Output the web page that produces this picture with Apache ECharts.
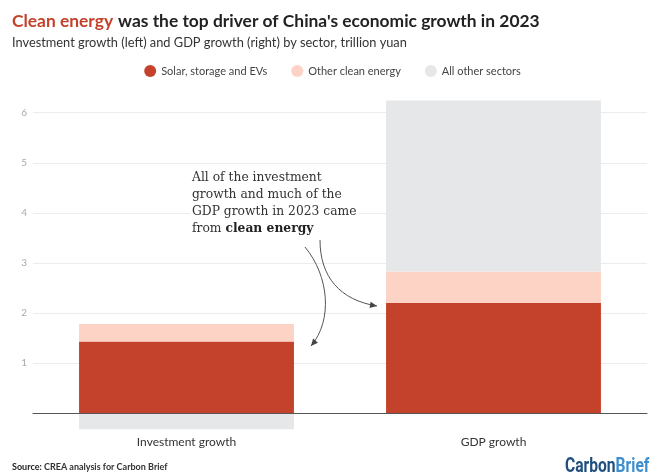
<!DOCTYPE html>
<html><head><meta charset="utf-8">
<script src="https://cdn.jsdelivr.net/npm/echarts@6/dist/echarts.min.js"></script>
<style>html,body{margin:0;padding:0;background:#fff}#c{width:665px;height:476px}</style>
</head><body><div id="c"></div>
<script>
const categories = ['Investment growth', 'GDP growth'];
const solarStorageEVs = [1.43, 2.20];
const otherCleanEnergy = [0.35, 0.63];
const allOtherSectors = [-0.32, 3.41];
const yTickLabels = ['', '1', '2', '3', '4', '5', '6'];

const SANS = 'Lato, "Noto Sans", sans-serif';
const chart = echarts.init(document.getElementById('c'), null, {renderer: 'canvas'});

function arrowHead(ex, ey, tx, ty) {
  const len = Math.hypot(tx, ty), ux = tx / len, uy = ty / len;
  const L = 7, W = 3.2;
  const bx = ex - ux * L, by = ey - uy * L;
  return [[ex, ey], [bx - uy * W, by + ux * W], [bx + uy * W, by - ux * W]];
}
const arrows = [
  {x1: 305, y1: 247, cpx1: 329, cpy1: 276, cpx2: 333, cpy2: 320, x2: 311, y2: 346},
  {x1: 320, y1: 240, cpx1: 320, cpy1: 277, cpx2: 340, cpy2: 300, x2: 377, y2: 306}
];
const arrowGraphics = [];
arrows.forEach(a => {
  arrowGraphics.push({type: 'bezierCurve', z: 100, shape: a, style: {stroke: '#555', lineWidth: 1, fill: null}});
  arrowGraphics.push({type: 'polygon', z: 100, shape: {points: arrowHead(a.x2, a.y2, a.x2 - a.cpx2, a.y2 - a.cpy2)}, style: {fill: '#444'}});
});

chart.setOption({
  animation: false,
  backgroundColor: '#fff',
  title: [
    {text: '{r|Clean energy} {d|was the top driver of China\'s economic growth in 2023}', left: 12, top: 12, padding: 0,
     textStyle: {rich: {
       r: {fontFamily: SANS, fontWeight: 'bold', fontSize: 17.4, color: '#c4422b'},
       d: {fontFamily: SANS, fontWeight: 'bold', fontSize: 17.4, color: '#222'}}}},
    {text: 'Investment growth (left) and GDP growth (right) by sector, trillion yuan', left: 12, top: 36, padding: 0,
     textStyle: {fontFamily: SANS, fontWeight: 'normal', fontSize: 12.8, color: '#333'}},
    {text: '{b|Source:} CREA analysis for Carbon Brief', left: 12, top: 463, padding: 0,
     textStyle: {rich: {
       b: {fontFamily: SANS, fontWeight: 'bold', fontSize: 9, color: '#222'}},
       fontFamily: SANS, fontSize: 9, color: '#333'}}
  ],
  legend: {
    top: 60, left: 'center', icon: 'circle', itemWidth: 12, itemHeight: 12, itemGap: 24,
    textStyle: {fontFamily: SANS, fontSize: 11, color: '#444'},
    data: ['Solar, storage and EVs', 'Other clean energy', 'All other sectors']
  },
  grid: [
    {left: 33, right: 18, top: 92.6, bottom: 42.7, outerBoundsMode: 'none', containLabel: false},
    {left: 33, right: 18, top: 112.7, bottom: 62.7, outerBoundsMode: 'none', containLabel: false}
  ],
  xAxis: [
    {type: 'category', gridIndex: 0, data: categories, z: 5,
     axisLine: {onZero: true, lineStyle: {color: '#555', width: 1}},
     axisTick: {show: false}, axisLabel: {show: false}},
    {type: 'category', gridIndex: 1, data: categories,
     axisLine: {show: false}, axisTick: {show: false},
     axisLabel: {margin: 23, fontFamily: SANS, fontSize: 12, color: '#333'}}
  ],
  yAxis: [
    {type: 'value', gridIndex: 0, min: -0.4, max: 6.4,
     splitLine: {show: false}, axisLine: {show: false}, axisTick: {show: false}, axisLabel: {show: false}},
    {type: 'value', gridIndex: 1, min: 0, max: 6, interval: 1,
     splitLine: {show: true, lineStyle: {color: '#ececec', width: 1}},
     axisLine: {show: false}, axisTick: {show: false},
     axisLabel: {margin: 6, fontFamily: SANS, fontSize: 10, color: '#aaa',
       formatter: v => yTickLabels[Math.round(v)] || ''}}
  ],
  series: [
    {name: 'Solar, storage and EVs', type: 'bar', stack: 's', xAxisIndex: 0, yAxisIndex: 0,
     data: solarStorageEVs, barWidth: '70%', itemStyle: {color: '#c4422b'}},
    {name: 'Other clean energy', type: 'bar', stack: 's', xAxisIndex: 0, yAxisIndex: 0,
     data: otherCleanEnergy, itemStyle: {color: '#fdd3c6'}},
    {name: 'All other sectors', type: 'bar', stack: 's', xAxisIndex: 0, yAxisIndex: 0,
     data: allOtherSectors, itemStyle: {color: '#e6e7e9'}}
  ],
  graphic: [
    {type: 'text', left: 190, top: 169, z: 90,
     style: {
       text: 'All of the investment\ngrowth and much of the\nGDP growth in 2023 came\nfrom {b|clean energy}',
       font: '12.3px "DejaVu Serif", serif', fill: '#333', lineHeight: 17,
       backgroundColor: '#fff', padding: [0, 2],
       rich: {b: {fontFamily: '"DejaVu Serif", serif', fontWeight: 'bold', fontSize: 12.3, fill: '#222', lineHeight: 17}}
     }},
    {type: 'text', x: 565, y: 467, z: 90, scaleX: 0.78, originX: 0, originY: 0,
     style: {text: '{c|Carbon}{b|Brief}', verticalAlign: 'middle', align: 'left', rich: {
       c: {fontFamily: 'Roboto, sans-serif', fontWeight: 'bold', fontSize: 20, fill: '#1f4f7f'},
       b: {fontFamily: 'Roboto, sans-serif', fontWeight: 'bold', fontSize: 20, fill: '#3f8fcf'}}}}
  ].concat(arrowGraphics)
});
</script></body></html>
